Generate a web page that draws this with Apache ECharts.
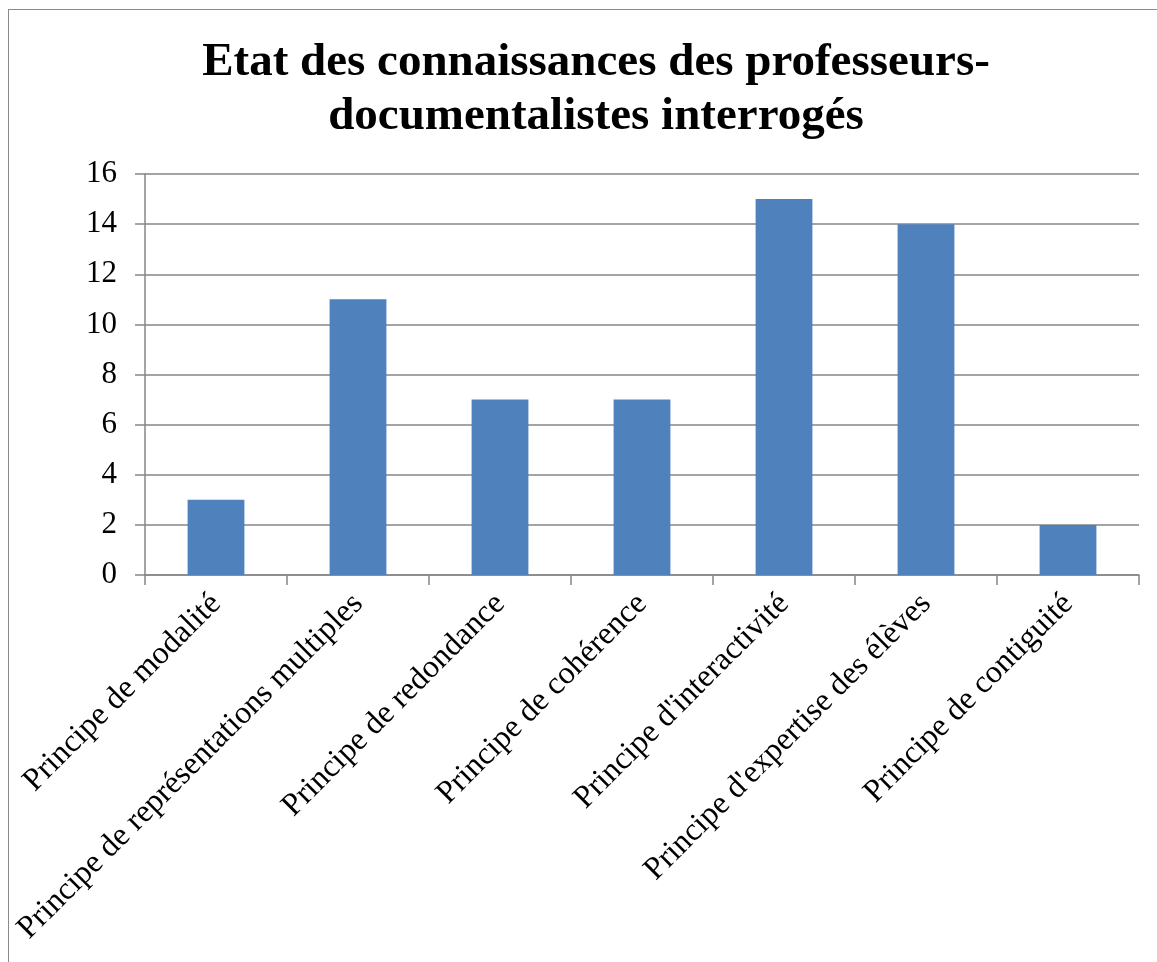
<!DOCTYPE html>
<html>
<head>
<meta charset="utf-8">
<script src="https://cdn.jsdelivr.net/npm/echarts@6/dist/echarts.min.js"></script>
<style>
  html, body { margin: 0; padding: 0; background: #fff; }
  .frame {
    position: absolute;
    left: 8px;
    top: 9px;
    width: 1160px;
    height: 970px;
    border-left: 1.5px solid #8a8a8a;
    border-top: 1.5px solid #8a8a8a;
  }
  .section {
    position: absolute;
    left: 0;
    top: 0;
    width: 1157px;
    height: 962px;
  }
</style>
</head>
<body>
<div class="frame"></div>
<section id="chart" class="section"></section>
<script>
const titleText = 'Etat des connaissances des professeurs-\ndocumentalistes interrogés';
const categories = [
  'Principe de modalité',
  'Principe de représentations multiples',
  'Principe de redondance',
  'Principe de cohérence',
  "Principe d'interactivité",
  "Principe d'expertise des élèves",
  'Principe de contiguité',
];
const values = [3, 11, 7, 7, 15, 14, 2];

const serif = "'Liberation Serif', 'Times New Roman', serif";

const option = {
  backgroundColor: 'transparent',
  animation: false,
  title: {
    text: titleText,
    left: 591,
    top: 31,
    textAlign: 'center',
    textStyle: {
      fontFamily: serif,
      fontWeight: 'bold',
      fontSize: 47,
      lineHeight: 54,
      color: '#000',
    },
  },
  grid: {
    left: 145,
    right: 18,
    top: 174,
    bottom: 387,
    containLabel: false,
  },
  xAxis: {
    type: 'category',
    data: categories,
    axisLine: {
      lineStyle: { color: '#868686', width: 1.5 },
    },
    axisTick: {
      show: true,
      length: 10,
      lineStyle: { color: '#868686', width: 1.5 },
    },
    axisLabel: {
      rotate: 45,
      interval: 0,
      margin: 24,
      color: '#000',
      fontFamily: serif,
      fontSize: 32,
    },
  },
  yAxis: {
    type: 'value',
    min: 0,
    max: 16,
    interval: 2,
    axisLine: {
      show: true,
      lineStyle: { color: '#868686', width: 1.5 },
    },
    axisTick: {
      show: true,
      length: 10,
      lineStyle: { color: '#868686', width: 1.5 },
    },
    axisLabel: {
      margin: 28,
      color: '#000',
      fontFamily: serif,
      fontSize: 31,
    },
    splitLine: {
      lineStyle: { color: '#868686', width: 1.5 },
    },
  },
  series: [
    {
      type: 'bar',
      data: values,
      barWidth: '40%',
      itemStyle: {
        color: '#4F81BD',
      },
    },
  ],
};

const myChart = echarts.init(document.getElementById('chart'));
myChart.setOption(option);
window.addEventListener('resize', () => {
  myChart.resize();
});
</script>
</body>
</html>
